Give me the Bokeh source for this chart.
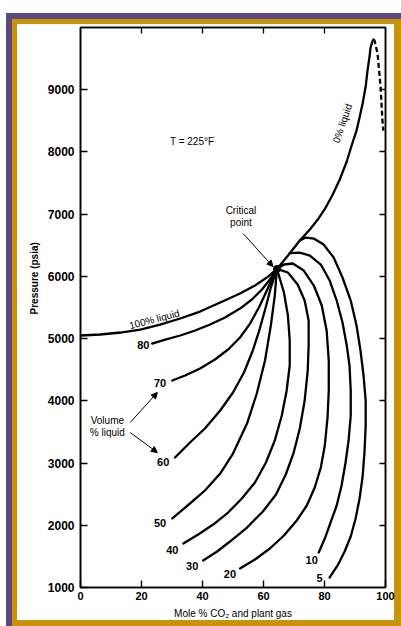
from bokeh.plotting import figure
from bokeh.models import (Range1d, LinearAxis, FixedTicker, Label, Arrow, NormalHead)
from bokeh.embed import file_html
from bokeh.resources import INLINE

# ---------------- data ----------------
x_ticks = [0, 20, 40, 60, 80, 100]
y_ticks = [1000, 2000, 3000, 4000, 5000, 6000, 7000, 8000, 9000]

critical_x = [64.4]
critical_p = [6120]

liq100_x = [0, 6.5, 13.1, 19.6, 26.1, 32.7, 39.2, 45.8, 52.3, 57.2, 61.1, 64.4]
liq100_p = [5050, 5066, 5098, 5146, 5226, 5323, 5435, 5580, 5725, 5853, 5982, 6120]

liq80_x = [23.5, 27.8, 32.7, 37.6, 42.5, 47.4, 52.3, 56.2, 59.5, 62.1, 64.4]
liq80_p = [4921, 4985, 5050, 5130, 5226, 5339, 5483, 5628, 5789, 5950, 6120]

liq70_x = [30.1, 34.3, 39.2, 44.1, 48.4, 52.3, 55.6, 58.5, 60.8, 62.7, 64.4]
liq70_p = [4326, 4407, 4519, 4664, 4825, 5018, 5242, 5500, 5741, 5950, 6120]

liq60_x = [31.0, 35.9, 40.8, 45.8, 50.0, 53.6, 56.5, 58.8, 60.8, 62.4, 64.4]
liq60_p = [3089, 3330, 3555, 3844, 4134, 4455, 4809, 5162, 5516, 5821, 6120]

liq50_x = [30.1, 35.9, 40.8, 45.8, 50.0, 54.6, 57.8, 60.5, 62.4, 63.7, 64.4]
liq50_p = [2109, 2350, 2559, 2832, 3153, 3635, 4118, 4648, 5210, 5692, 6120]

liq40_x = [33.7, 38.6, 43.5, 48.4, 52.9, 57.2, 60.8, 63.7, 66.0, 67.6, 68.6, 68.6, 68.0, 66.7, 64.4]
liq40_p = [1707, 1852, 2012, 2205, 2430, 2687, 3009, 3362, 3764, 4166, 4568, 4969, 5371, 5741, 6120]

liq30_x = [40.2, 44.8, 49.0, 54.6, 59.8, 64.1, 67.3, 69.9, 71.9, 73.5, 74.5, 74.8, 74.8,
           73.5, 71.2, 68.0, 64.4]
liq30_p = [1434, 1579, 1739, 1964, 2221, 2495, 2816, 3169, 3555, 4005, 4487, 4889, 5291,
           5612, 5869, 6062, 6120]

liq20_x = [52.3, 57.2, 62.1, 66.7, 70.9, 74.2, 76.8, 78.8, 80.1, 81.0, 81.4, 81.4, 80.7,
           79.1, 76.5, 73.2, 69.6, 66.7, 64.4]
liq20_p = [1305, 1450, 1627, 1836, 2077, 2318, 2607, 2928, 3282, 3732, 4166, 4648, 5130,
           5532, 5853, 6094, 6207, 6191, 6120]

liq10_x = [78.1, 80.1, 82.0, 84.0, 85.6, 86.9, 87.9, 88.6, 88.6, 88.2, 87.3, 85.9, 84.0,
           81.7, 78.8, 75.2, 71.9, 68.6]
liq10_p = [1562, 1787, 2045, 2318, 2639, 3009, 3362, 3764, 4166, 4568, 4889, 5259, 5612,
           5933, 6190, 6335, 6383, 6375]

liq5_x = [81.7, 84.3, 86.6, 88.6, 90.2, 91.5, 92.5, 93.1, 93.5, 93.5, 92.8, 91.8, 90.5,
          88.6, 85.9, 83.0, 79.7, 76.5, 73.9, 71.9]
liq5_p = [1161, 1354, 1579, 1820, 2109, 2430, 2784, 3169, 3603, 4005, 4407, 4809, 5210,
          5612, 5982, 6303, 6512, 6608, 6624, 6576]

liq0_x = [64.4, 68.3, 71.9, 75.2, 77.8, 80.4, 82.7, 85.0, 87.3, 88.9, 90.5, 91.5, 92.5,
          93.5, 94.1, 94.8, 95.1, 95.8, 96.1]
liq0_p = [6120, 6351, 6576, 6753, 6914, 7107, 7316, 7557, 7846, 8103, 8344, 8553, 8778,
          9051, 9308, 9549, 9678, 9790, 9806]

liq0_dash_x = [96.1, 96.4, 97.4, 98.4, 99.0, 99.3]
liq0_dash_p = [9806, 9790, 9581, 9035, 8505, 8344]

curve_labels = ["80", "70", "60", "50", "40", "30", "20", "10", "5"]
curve_label_x = [20.6, 26.1, 27.1, 26.1, 30.1, 36.6, 49.0, 75.8, 78.4]
curve_label_p = [4890, 4280, 3010, 2030, 1595, 1340, 1225, 1450, 1160]

FONT = "Liberation Sans"
PURPLE = "#5c4a7c"
GOLD = "#c8920a"

# ---------------- figure ----------------
p = figure(width=401, height=626, x_range=Range1d(0, 100), y_range=Range1d(1000, 10000),
           output_backend="svg", toolbar_location=None,
           min_border_left=80, min_border_right=16, min_border_top=27, min_border_bottom=39,
           background_fill_color="white", border_fill_color=None,
           outline_line_color="black", outline_line_width=1.5)
p.grid.visible = False

# page frame bands (purple / gold) drawn as the plot's own CSS background
g = lambda c, x, y, w, h: f"linear-gradient({c},{c}) {x}px {y}px / {w}px {h}px no-repeat"
p.styles = {"background": ", ".join([
    g(PURPLE, 6, 13, 395, 6), g(PURPLE, 6, 13, 6, 613),
    g(GOLD, 12, 19, 389, 5), g(GOLD, 12, 19, 5, 607),
    g(GOLD, 394, 19, 7, 607), g(GOLD, 12, 620, 389, 6),
]) + ", white"}

p.xaxis.ticker = FixedTicker(ticks=x_ticks)
p.yaxis.ticker = FixedTicker(ticks=y_ticks)
for ax in (p.xaxis[0], p.yaxis[0]):
    ax.major_tick_in = 7
    ax.major_tick_out = 0
    ax.minor_tick_in = 0
    ax.minor_tick_out = 0
    ax.axis_line_width = 1.6
    ax.major_tick_line_width = 1.4
    ax.major_label_text_font = FONT
    ax.major_label_text_font_style = "bold"
    ax.major_label_text_color = "black"
    ax.axis_label_text_font = FONT
    ax.axis_label_text_font_size = "10px"
    ax.axis_label_text_color = "black"
p.yaxis.major_label_text_font_size = "12px"
p.xaxis.major_label_text_font_size = "11px"
p.yaxis.major_label_standoff = 6
p.xaxis.major_label_standoff = 4

p.xaxis.axis_label = "Mole % CO₂ and plant gas"
p.xaxis.axis_label_text_font_style = "normal"
p.xaxis.axis_label_standoff = 5
p.yaxis.axis_label = "\u00a0" * 21 + "Pressure (psia)"
p.yaxis.axis_label_text_font_style = "bold"
p.yaxis.axis_label_standoff = 5

right_ax = LinearAxis(ticker=FixedTicker(ticks=y_ticks[1:]),
                      major_label_overrides={t: "" for t in y_ticks[1:]},
                      major_tick_in=6, major_tick_out=0, minor_tick_in=0, minor_tick_out=0,
                      axis_line_width=1.5, major_tick_line_width=1.3)
p.add_layout(right_ax, "right")
top_ax = LinearAxis(ticker=FixedTicker(ticks=x_ticks[1:-1]),
                    major_label_overrides={t: "" for t in x_ticks[1:-1]},
                    major_tick_in=6, major_tick_out=0, minor_tick_in=0, minor_tick_out=0,
                    axis_line_width=1.5, major_tick_line_width=1.3)
p.add_layout(top_ax, "above")

# ---------------- curves ----------------
solid_curves = [(liq100_x, liq100_p), (liq80_x, liq80_p), (liq70_x, liq70_p),
                (liq60_x, liq60_p), (liq50_x, liq50_p), (liq40_x, liq40_p),
                (liq30_x, liq30_p), (liq20_x, liq20_p), (liq10_x, liq10_p),
                (liq5_x, liq5_p), (liq0_x, liq0_p)]
for xs, ps in solid_curves:
    p.line(xs, ps, line_color="black", line_width=2.3, line_join="round", line_cap="round")
p.line(liq0_dash_x, liq0_dash_p, line_color="black", line_width=2.3, line_dash="5 3")
p.scatter(critical_x, critical_p, size=7, color="black")

# ---------------- texts ----------------
def lab(x, y, text, size="10px", style="normal", angle=0.0):
    p.add_layout(Label(x=x, y=y, text=text, angle=angle, text_font=FONT, text_font_size=size,
                       text_font_style=style, text_color="black",
                       text_align="center", text_baseline="middle"))

for t, x, y in zip(curve_labels, curve_label_x, curve_label_p):
    lab(x, y, t, size="11px", style="bold")

lab(24.2, 5310, "100% liquid", angle=0.253)
lab(85.9, 8460, "0% liquid", angle=1.24)
lab(36.6, 8170, "T = 225°F")
lab(52.6, 7060, "Critical")
lab(52.6, 6870, "point")
lab(8.8, 3684, "Volume")
lab(8.8, 3491, "% liquid")

head = dict(size=6, fill_color="black", line_color="black")
p.add_layout(Arrow(end=NormalHead(**head), x_start=53.3, y_start=6690, x_end=63.1, y_end=6158,
                   line_width=1))
p.add_layout(Arrow(end=NormalHead(**head), x_start=16.3, y_start=3652, x_end=25.2, y_end=4134,
                   line_width=1))
p.add_layout(Arrow(end=NormalHead(**head), x_start=16.3, y_start=3491, x_end=25.2, y_end=3169,
                   line_width=1))

open("out.html", "w").write(file_html(p, INLINE))
